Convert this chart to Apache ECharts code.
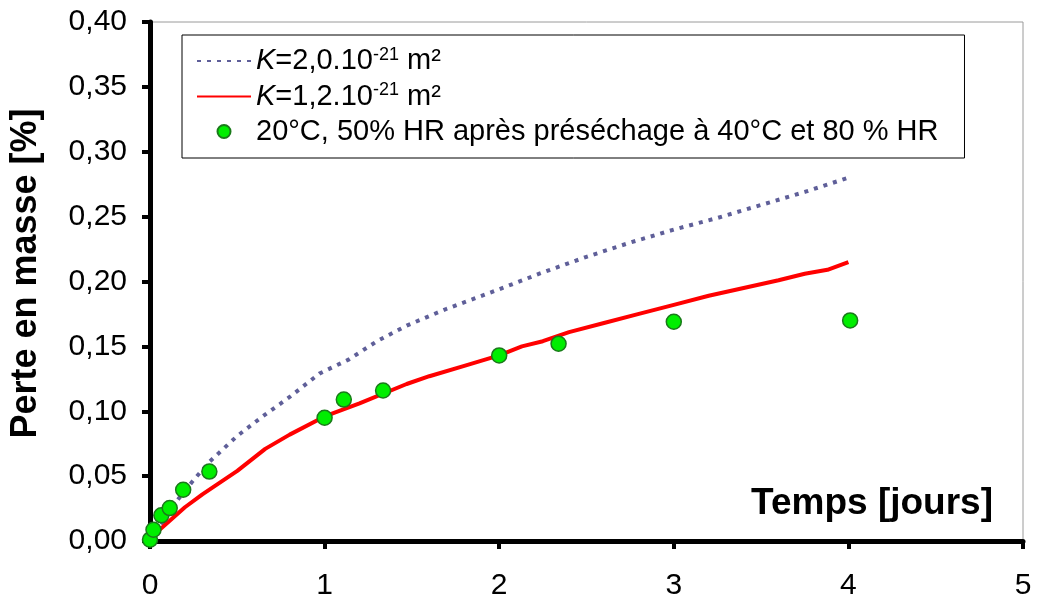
<!DOCTYPE html>
<html>
<head>
<meta charset="utf-8">
<script src="https://cdn.jsdelivr.net/npm/echarts@6/dist/echarts.min.js"></script>
<style>
html,body{margin:0;padding:0;background:#fff;}
#chart{width:1037px;height:601px;}
</style>
</head>
<body>
<div id="chart"></div>
<script>
// Data
const xTicks = [0, 1, 2, 3, 4, 5];
const yTicks = [0, 0.05, 0.10, 0.15, 0.20, 0.25, 0.30, 0.35, 0.40];

const seriesNames = [
  'K=2,0.10-21 m²',
  'K=1,2.10-21 m²',
  '20°C, 50% HR après préséchage à 40°C et 80 % HR'
];

// dotted curve (K=2,0.10^-21 m²)
const curveK20_x = [0, 0.05, 0.1, 0.166, 0.25, 0.34, 0.5, 0.645, 0.8, 0.97, 1.14, 1.3, 1.47, 1.7, 2.0, 2.23, 2.5, 2.75, 3.0, 3.25, 3.5, 3.75, 4.0];
const curveK20_y = [0, 0.009, 0.020, 0.033, 0.047, 0.061, 0.081, 0.096, 0.111, 0.129, 0.140, 0.154, 0.166, 0.179, 0.194, 0.206, 0.219, 0.230, 0.240, 0.249, 0.259, 0.269, 0.280];

// solid red curve (K=1,2.10^-21 m²)
const curveK12_x = [0, 0.05, 0.1, 0.2, 0.3, 0.4, 0.5, 0.66, 0.8, 1.0, 1.2, 1.47, 1.6, 1.8, 2.0, 2.13, 2.25, 2.4, 2.6, 2.8, 3.0, 3.2, 3.4, 3.6, 3.75, 3.88, 4.0];
const curveK12_y = [0, 0.008, 0.014, 0.026, 0.036, 0.045, 0.054, 0.071, 0.082, 0.096, 0.106, 0.121, 0.127, 0.135, 0.143, 0.150, 0.154, 0.161, 0.168, 0.175, 0.182, 0.189, 0.195, 0.201, 0.206, 0.209, 0.215];

// measurements
const meas_x = [0, 0.02, 0.065, 0.113, 0.19, 0.34, 1.0, 1.11, 1.335, 2.0, 2.34, 3.0, 4.01];
const meas_y = [0.001, 0.0087, 0.0198, 0.0254, 0.0395, 0.0535, 0.095, 0.109, 0.116, 0.143, 0.152, 0.169, 0.170];

function zip(a, b) { return a.map((v, i) => [v, b[i]]); }

const legendFmt = {};
legendFmt[seriesNames[0]] = '{i|K}{n|=2,0.10}{s|-21}{n| m²}';
legendFmt[seriesNames[1]] = '{i|K}{n|=1,2.10}{s|-21}{n| m²}';
legendFmt[seriesNames[2]] = '{n|' + seriesNames[2] + '}';

const FONT = '"Liberation Sans", Arial, sans-serif';

const chart = echarts.init(document.getElementById('chart'), null, {renderer: 'canvas'});
chart.setOption({
  animation: false,
  backgroundColor: '#ffffff',
  textStyle: {fontFamily: FONT},
  grid: {
    left: 149, right: 14, top: 22, bottom: 58,
    show: true, borderColor: '#9a9a9a', borderWidth: 1, backgroundColor: 'transparent'
  },
  legend: {
    orient: 'vertical',
    left: 182, top: 35,
    backgroundColor: '#ffffff',
    borderColor: '#000000', borderWidth: 1,
    padding: [11, 26, 12, 14],
    itemGap: 6,
    itemWidth: 54, itemHeight: 13,
    itemTextGap: 8,
    data: [
      {name: seriesNames[0], itemStyle: {opacity: 0}},
      {name: seriesNames[1], itemStyle: {opacity: 0}},
      {name: seriesNames[2]}
    ],
    formatter: function (name) { return legendFmt[name]; },
    textStyle: {
      color: '#000', fontFamily: FONT, fontSize: 29,
      rich: {
        n: {fontSize: 29, fontFamily: FONT, color: '#000', lineHeight: 30},
        i: {fontSize: 29, fontFamily: FONT, color: '#000', fontStyle: 'italic', lineHeight: 30},
        s: {fontSize: 18, fontFamily: FONT, color: '#000', verticalAlign: 'top', lineHeight: 30}
      }
    }
  },
  xAxis: {
    type: 'value',
    min: 0, max: 5, interval: 1,
    name: 'Temps [jours]',
    nameLocation: 'end',
    nameGap: -30,
    nameTextStyle: {
      fontFamily: FONT, fontSize: 37, fontWeight: 'bold', color: '#000',
      align: 'right', verticalAlign: 'bottom', padding: [0, 0, 19, 0]
    },
    axisLine: {show: true, onZero: false, lineStyle: {color: '#000', width: 5}},
    axisTick: {show: true, inside: false, length: 8, lineStyle: {color: '#000', width: 4}},
    axisLabel: {
      color: '#000', fontFamily: FONT, fontSize: 30, margin: 30,
      formatter: function (v) { return String(v); }
    },
    splitLine: {show: false}
  },
  yAxis: {
    type: 'value',
    min: 0, max: 0.40, interval: 0.05,
    name: 'Perte en masse [%]',
    nameLocation: 'middle',
    nameGap: 106,
    nameTextStyle: {fontFamily: FONT, fontSize: 36, fontWeight: 'bold', color: '#000', padding: [0, 0, 0, 16]},
    axisLine: {show: true, onZero: false, lineStyle: {color: '#000', width: 5}},
    axisTick: {show: true, inside: false, length: 8, lineStyle: {color: '#000', width: 4}},
    axisLabel: {
      color: '#000', fontFamily: FONT, fontSize: 30, margin: 23,
      formatter: function (v) { return v.toFixed(2).replace('.', ','); }
    },
    splitLine: {show: false}
  },
  series: [
    {
      name: seriesNames[0],
      type: 'line',
      data: zip(curveK20_x, curveK20_y),
      showSymbol: false, symbol: 'none',
      smooth: false,
      lineStyle: {color: '#5f5f99', width: 4, type: [4, 6], cap: 'butt'},
      itemStyle: {color: '#5f5f99'},
      z: 2
    },
    {
      name: seriesNames[1],
      type: 'line',
      data: zip(curveK12_x, curveK12_y),
      showSymbol: false, symbol: 'none',
      smooth: false,
      lineStyle: {color: '#ff0000', width: 4},
      itemStyle: {color: '#ff0000'},
      z: 3
    },
    {
      name: seriesNames[2],
      type: 'scatter',
      data: zip(meas_x, meas_y),
      symbol: 'circle',
      symbolSize: 15,
      clip: false,
      itemStyle: {color: '#00ee00', borderColor: '#1a7a1a', borderWidth: 1.5, opacity: 1},
      z: 4
    }
  ]
});
</script>
</body>
</html>
